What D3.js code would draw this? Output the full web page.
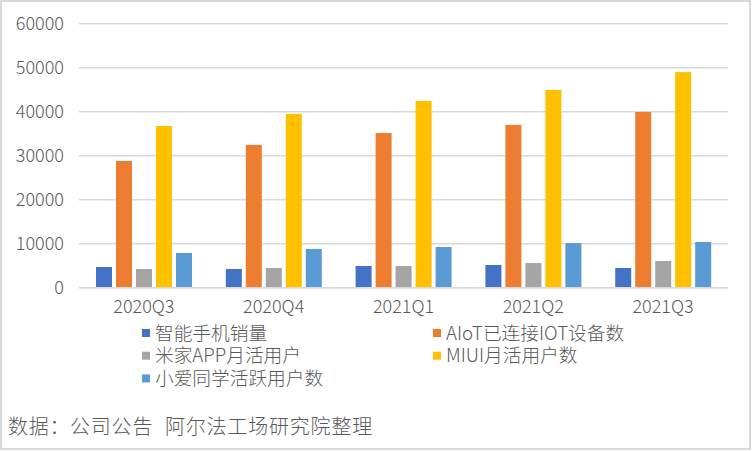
<!DOCTYPE html>
<html>
<head>
<meta charset="utf-8">
<script src="https://cdn.jsdelivr.net/npm/d3@7"></script>
<style>
    html, body { margin: 0; padding: 0; background: #fff; }
    text { font-family: "Noto Sans CJK SC", "Noto Sans", sans-serif; font-weight: 300; }
</style>
</head>
<body>
<div id="chart"></div>
<script>
const QUARTERS = ["2020Q3", "2020Q4", "2021Q1", "2021Q2", "2021Q3"];
const SERIES = ["智能手机销量", "AIoT已连接IOT设备数", "米家APP月活用户", "MIUI月活用户数", "小爱同学活跃用户数"];
const COLORS = ["#4472C4", "#ED7D31", "#A5A5A5", "#FFC000", "#5B9BD5"];
const PHONE = [4700, 4250, 4930, 5160, 4480];
const AIOT = [28800, 32450, 35150, 37000, 39950];
const MIHOME = [4250, 4480, 4930, 5610, 6070];
const MIUI = [36750, 39480, 42450, 44950, 49000];
const XIAOAI = [7900, 8800, 9250, 10150, 10400];
const Y_TICKS = [0, 10000, 20000, 30000, 40000, 50000, 60000];
const FOOTER = ["数据：", "公司公告", "阿尔法工场研究院整理"];

(function () {

    const width = 752, height = 452;
    const values = [PHONE, AIOT, MIHOME, MIUI, XIAOAI];

    const svg = d3.select("#chart")
        .append("svg")
        .attr("width", width)
        .attr("height", height);

    svg.append("rect")
        .attr("x", 1).attr("y", 1)
        .attr("width", width - 3).attr("height", height - 4)
        .attr("fill", "#fff")
        .attr("stroke", "#d9d9d9")
        .attr("stroke-width", 2);

    const x0 = d3.scaleBand().domain(QUARTERS).range([79, 728]);
    const x1 = d3.scaleBand().domain(SERIES).range([17, 113]).paddingInner(0.2);
    const y = d3.scaleLinear().domain([0, 60000]).range([287.7, 23.7]);

    // grid lines + y labels
    const grid = svg.append("g");
    grid.selectAll("line")
        .data(Y_TICKS)
        .enter()
        .append("line")
        .attr("x1", 79).attr("x2", 728)
        .attr("y1", d => y(d)).attr("y2", d => y(d))
        .attr("stroke", "#d9d9d9")
        .attr("stroke-width", 1.5);

    grid.selectAll("text")
        .data(Y_TICKS)
        .enter()
        .append("text")
        .attr("x", 64)
        .attr("y", d => y(d))
        .attr("dy", "0.35em")
        .attr("text-anchor", "end")
        .attr("fill", "#595959")
        .style("font-size", "18px")
        .text(d => d);

    // bars
    const rows = [];
    QUARTERS.forEach((q, i) => SERIES.forEach((s, j) => rows.push({ q: q, s: s, v: values[j][i], c: COLORS[j] })));

    svg.append("g")
        .selectAll("rect")
        .data(rows)
        .enter()
        .append("rect")
        .attr("x", d => x0(d.q) + x1(d.s))
        .attr("width", x1.bandwidth())
        .attr("y", d => y(d.v))
        .attr("height", d => y(0) - y(d.v))
        .attr("fill", d => d.c);

    // baseline over bars
    svg.append("line")
        .attr("x1", 79).attr("x2", 728)
        .attr("y1", y(0)).attr("y2", y(0))
        .attr("stroke", "#d9d9d9")
        .attr("stroke-width", 1.5);

    svg.append("g")
        .selectAll("text")
        .data(QUARTERS)
        .enter()
        .append("text")
        .attr("x", d => x0(d) + x0.bandwidth() / 2)
        .attr("y", 307)
        .attr("dy", "0.35em")
        .attr("text-anchor", "middle")
        .attr("fill", "#595959")
        .style("font-size", "18px")
        .text(d => d);

    // legend, two columns
    const legend = svg.append("g")
        .selectAll("g")
        .data(SERIES)
        .enter()
        .append("g")
        .attr("transform", (d, i) => `translate(${i % 2 ? 433 : 142},${333 + Math.floor(i / 2) * 22.7})`);

    legend.append("rect")
        .attr("x", 0).attr("y", -4)
        .attr("width", 8).attr("height", 8)
        .attr("fill", (d, i) => COLORS[i]);

    legend.append("text")
        .attr("x", 13)
        .attr("dy", "0.35em")
        .attr("fill", "#595959")
        .style("font-size", "18.7px")
        .text(d => d);

    // footer, pieces spaced like the source
    svg.append("g")
        .selectAll("text")
        .data(FOOTER)
        .enter()
        .append("text")
        .attr("x", (d, i) => [8, 70, 165][i])
        .attr("y", 427)
        .attr("dy", "0.35em")
        .attr("fill", "#595959")
        .style("font-size", "20px")
        .style("letter-spacing", "0.8px")
        .text(d => d);

})()
</script>
</body>
</html>
